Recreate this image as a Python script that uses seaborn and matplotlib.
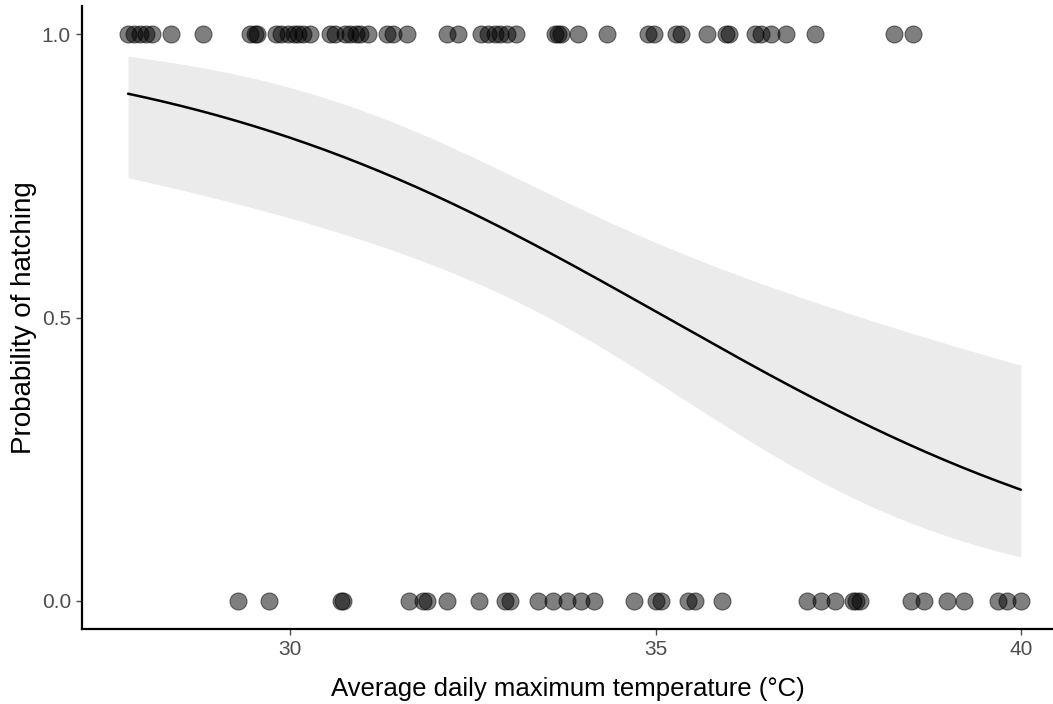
import numpy as np
import pandas as pd
import matplotlib
matplotlib.use("Agg")
import matplotlib.pyplot as plt
import seaborn as sns

# Observed temperatures (°C) for hatched (1) and unhatched (0) eggs
temp_hatched = [27.78, 27.86, 27.94, 28.03, 28.11, 28.37, 28.80,
                29.45, 29.52, 29.55, 29.81, 29.87, 29.97, 30.05, 30.10, 30.17,
                30.27, 30.54, 30.61, 30.75, 30.82, 30.90, 30.96, 31.07,
                31.33, 31.41, 31.60, 32.15, 32.30, 32.61, 32.71, 32.80,
                32.87, 32.97, 33.09, 33.62, 33.67, 33.71, 33.94, 34.34,
                34.89, 34.98, 35.28, 35.35, 35.71, 35.97, 36.00, 36.36,
                36.45, 36.58, 36.78, 37.18, 38.26, 38.52]
temp_failed = [29.28, 29.71, 30.69, 30.72, 31.63, 31.82, 31.87, 32.15,
               32.58, 32.94, 33.01, 33.39, 33.60, 33.79, 33.98, 34.16,
               34.71, 35.01, 35.08, 35.44, 35.54, 35.91, 37.07, 37.27,
               37.46, 37.70, 37.74, 37.80, 38.49, 38.67, 38.99, 39.22,
               39.69, 39.81, 40.00]
hatched = [1] * len(temp_hatched) + [0] * len(temp_failed)

df = pd.DataFrame({"temp": temp_hatched + temp_failed, "hatched": hatched})

# Logistic regression (IRLS) with Wald 95% CI on the link scale
X = np.column_stack([np.ones(len(df)), df["temp"].to_numpy()])
yv = df["hatched"].to_numpy(dtype=float)
beta = np.zeros(2)
for _ in range(50):
    eta = X @ beta
    mu = 1 / (1 + np.exp(-eta))
    W = mu * (1 - mu)
    z = eta + (yv - mu) / W
    XtW = X.T * W
    beta_new = np.linalg.solve(XtW @ X, XtW @ z)
    if np.max(np.abs(beta_new - beta)) < 1e-10:
        beta = beta_new
        break
    beta = beta_new
eta = X @ beta
mu = 1 / (1 + np.exp(-eta))
cov = np.linalg.inv((X.T * (mu * (1 - mu))) @ X)

grid = np.linspace(df["temp"].min(), df["temp"].max(), 200)
G = np.column_stack([np.ones_like(grid), grid])
eta_g = G @ beta
se_g = np.sqrt(np.einsum("ij,jk,ik->i", G, cov, G))
inv = lambda e: 1 / (1 + np.exp(-e))
fit = pd.DataFrame({"temp": grid, "p": inv(eta_g),
                    "lo": inv(eta_g - 1.96 * se_g), "hi": inv(eta_g + 1.96 * se_g)})

sns.set_style("white")
plt.rcParams["font.family"] = ["Liberation Sans", "DejaVu Sans"]

fig = plt.figure(figsize=(10.53, 7.04), dpi=100)
W_px, H_px = 1053, 704
ax = fig.add_axes([82 / W_px, 75 / H_px, (W_px - 82) / W_px, 623 / H_px])

ax.fill_between(fit["temp"], fit["lo"], fit["hi"], color="#ebebeb", lw=0, zorder=1)
sns.lineplot(data=fit, x="temp", y="p", color="black", lw=1.8, ax=ax, zorder=2)
sns.scatterplot(data=df, x="temp", y="hatched", s=150, color="black", alpha=0.5,
                edgecolor="black", linewidth=0.8, ax=ax, zorder=3)

ax.set_xlim(27.15, 40.44)
ax.set_ylim(-0.05, 1.05)
ax.set_xticks([30, 35, 40])
ax.set_yticks([0.0, 0.5, 1.0])
ax.set_yticklabels(["0.0", "0.5", "1.0"])
ax.tick_params(axis="both", colors="#4d4d4d", labelsize=15, length=4, width=1,
               direction="out", left=True, bottom=True, pad=4)
for s in ["top", "right"]:
    ax.spines[s].set_visible(False)
for s in ["left", "bottom"]:
    ax.spines[s].set_color("black")
    ax.spines[s].set_linewidth(1.6)
ax.set_xlabel("Average daily maximum temperature (°C)", fontsize=18.5, color="black", labelpad=13)
ax.set_ylabel("Probability of hatching", fontsize=20, color="black", labelpad=3)

fig.savefig("out.png", dpi=100)
